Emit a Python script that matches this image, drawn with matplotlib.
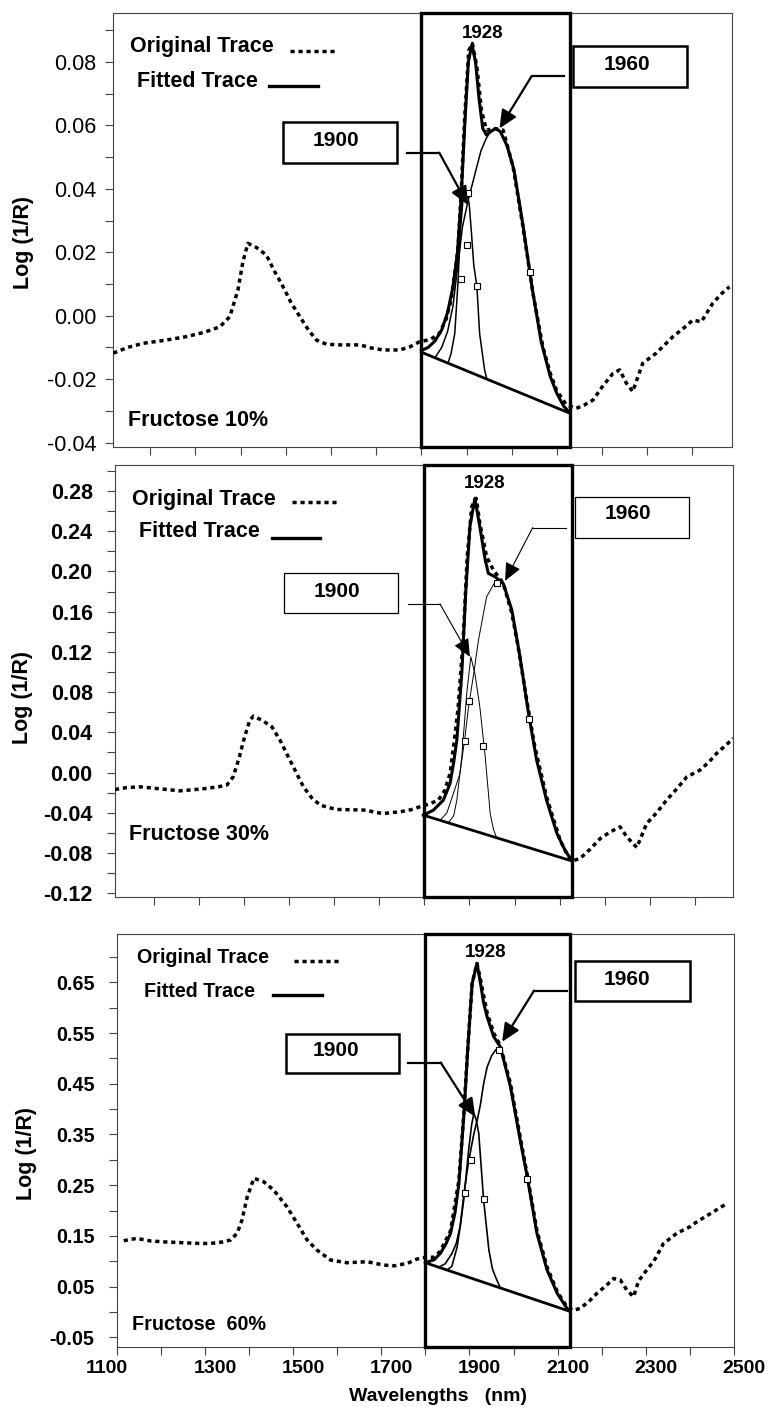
import matplotlib.pyplot as plt
from matplotlib.patches import Rectangle
from matplotlib.transforms import ScaledTranslation, blended_transform_factory

plt.rcParams['font.family'] = ['Liberation Sans', 'DejaVu Sans']
plt.rcParams['axes.unicode_minus'] = False

# ---- Fructose 10% ----
orig10_nm = [1118, 1150, 1184, 1230, 1280, 1320, 1354, 1376, 1394, 1405, 1416, 1435, 1457, 1475,
             1494, 1512, 1531, 1550, 1568, 1590, 1620, 1664, 1690, 1715, 1752, 1775, 1796, 1820,
             1840, 1855, 1866, 1881, 1888, 1896, 1905, 1913, 1923, 1933, 1944, 1962, 1981, 2003,
             2025, 2047, 2069, 2085, 2099, 2121, 2143, 2160, 2180, 2200, 2224, 2239, 2254, 2268,
             2290, 2320, 2357, 2380, 2401, 2420, 2445, 2465, 2482]
orig10_abs = [-0.0118, -0.0100, -0.0087, -0.0078, -0.0066, -0.0052, -0.0035, -0.0003, 0.0081,
              0.0170, 0.0228, 0.0215, 0.0191, 0.0140, 0.0091, 0.0040, -0.0003, -0.0045, -0.0077,
              -0.0090, -0.0092, -0.0092, -0.0102, -0.0108, -0.0108, -0.0098, -0.0082, -0.0075,
              -0.0056, -0.0010, 0.0051, 0.0207, 0.0385, 0.0627, 0.0837, 0.0858, 0.0784, 0.0648,
              0.0585, 0.0590, 0.0585, 0.0470, 0.0280, 0.0071, -0.0098, -0.0180, -0.0234, -0.0281,
              -0.0292, -0.0282, -0.0266, -0.0225, -0.0182, -0.0171, -0.0213, -0.0239, -0.0150,
              -0.0118, -0.0066, -0.0040, -0.0014, -0.0019, 0.0039, 0.0070, 0.0091]
fit10_nm = [1800, 1815, 1830, 1845, 1858, 1870, 1880, 1888, 1896, 1904, 1912, 1920, 1928, 1936,
            1944, 1955, 1965, 1975, 1990, 2005, 2025, 2045, 2065, 2085, 2100, 2115, 2128]
fit10_abs = [-0.0110, -0.0100, -0.0080, -0.0045, 0.0010, 0.0090, 0.0200, 0.0370, 0.0600, 0.0800,
             0.0855, 0.0800, 0.0680, 0.0590, 0.0570, 0.0582, 0.0590, 0.0580, 0.0535, 0.0460,
             0.0285, 0.0090, -0.0080, -0.0190, -0.0245, -0.0285, -0.0305]
base10_nm = [1800, 2128]
base10_abs = [-0.0115, -0.0307]
band1900_10_nm = [1859, 1866, 1874, 1881, 1886, 1892, 1901, 1906, 1911, 1916, 1923, 1929, 1940, 1945]
band1900_10_abs = [-0.0150, -0.0118, -0.0056, 0.0102, 0.0259, 0.0364, 0.0390, 0.0350, 0.0260,
                   0.0160, 0.0092, -0.0056, -0.0171, -0.0199]
band1960_10_nm = [1830, 1845, 1858, 1870, 1880, 1891, 1903, 1921, 1932, 1944, 1955, 1965, 1975,
                  1990, 2005, 2025, 2045, 2065, 2085, 2100, 2115, 2128]
band1960_10_abs = [-0.0133, -0.0100, -0.0050, 0.0030, 0.0150, 0.0280, 0.0360, 0.0460, 0.0520,
                   0.0560, 0.0585, 0.0590, 0.0580, 0.0535, 0.0460, 0.0285, 0.0090, -0.0080,
                   -0.0190, -0.0245, -0.0285, -0.0305]
sq10_nm = [1903, 1900, 1888, 1924, 2041]
sq10_abs = [0.0387, 0.0223, 0.0115, 0.0094, 0.0139]
tips10 = {'1900': (1903, 0.0349), '1960': (1973, 0.0590)}

# ---- Fructose 30% ----
orig30_nm = [1114, 1140, 1170, 1210, 1258, 1290, 1317, 1345, 1362, 1376, 1390, 1398, 1406, 1413,
             1421, 1440, 1462, 1480, 1502, 1517, 1532, 1550, 1569, 1590, 1606, 1640, 1672, 1690,
             1709, 1746, 1770, 1790, 1812, 1831, 1845, 1857, 1866, 1875, 1886, 1895, 1905, 1915,
             1923, 1938, 1953, 1975, 1994, 2008, 2027, 2045, 2071, 2101, 2115, 2127, 2145, 2168,
             2190, 2212, 2234, 2249, 2271, 2293, 2315, 2337, 2360, 2382, 2411, 2430, 2448, 2468, 2485]
orig30_abs = [-0.0168, -0.0150, -0.0142, -0.0160, -0.0182, -0.0170, -0.0158, -0.0140, -0.0125,
              -0.0043, 0.0156, 0.0300, 0.0422, 0.0520, 0.0561, 0.0520, 0.0455, 0.0322, 0.0123,
              -0.0010, -0.0142, -0.0250, -0.0324, -0.0350, -0.0367, -0.0370, -0.0374, -0.0395,
              -0.0407, -0.0390, -0.0370, -0.0341, -0.0310, -0.0275, -0.0180, -0.0009, 0.0300,
              0.0654, 0.1317, 0.2146, 0.2644, 0.2727, 0.2479, 0.2146, 0.2014, 0.1882, 0.1583,
              0.1251, 0.0720, 0.0256, -0.0242, -0.0673, -0.0800, -0.0879, -0.0855, -0.0760,
              -0.0656, -0.0590, -0.0540, -0.0640, -0.0745, -0.0507, -0.0400, -0.0275, -0.0160,
              -0.0043, 0.0024, 0.0100, 0.0190, 0.0270, 0.0340]
fit30_nm = [1798, 1820, 1842, 1857, 1865, 1872, 1883, 1892, 1901, 1912, 1923, 1935, 1942, 1957,
            1975, 1994, 2012, 2031, 2049, 2071, 2094, 2112, 2127]
fit30_abs = [-0.0424, -0.0374, -0.0275, -0.0109, 0.0100, 0.0322, 0.0986, 0.1815, 0.2445, 0.2727,
             0.2445, 0.2113, 0.1981, 0.1947, 0.1880, 0.1616, 0.1151, 0.0588, 0.0123, -0.0275,
             -0.0606, -0.0772, -0.0879]
base30_nm = [1798, 2127]
base30_abs = [-0.0424, -0.0879]
band1900_30_nm = [1853, 1865, 1872, 1883, 1894, 1903, 1912, 1923, 1935, 1946, 1953, 1960]
band1900_30_abs = [-0.0500, -0.0430, -0.0275, 0.0156, 0.0787, 0.1151, 0.0986, 0.0654, 0.0156,
                   -0.0407, -0.0560, -0.0648]
band1960_30_nm = [1835, 1850, 1865, 1879, 1890, 1898, 1910, 1920, 1938, 1957, 1968, 1975, 1994,
                  2012, 2031, 2049, 2071, 2094, 2112, 2127]
band1960_30_abs = [-0.0475, -0.0400, -0.0200, -0.0009, 0.0350, 0.0654, 0.1000, 0.1317, 0.1748,
                   0.1898, 0.1914, 0.1880, 0.1616, 0.1151, 0.0588, 0.0123, -0.0275, -0.0606,
                   -0.0772, -0.0879]
sq30_nm = [1960, 1900, 1890, 1929, 2031]
sq30_abs = [0.1882, 0.0710, 0.0312, 0.0263, 0.0528]
tips30 = {'1900': (1901, 0.1151), '1960': (1979, 0.1907)}

# ---- Fructose 60% ----
orig60_nm = [1116, 1130, 1146, 1176, 1210, 1252, 1290, 1312, 1340, 1358, 1373, 1384, 1396, 1411,
             1433, 1456, 1486, 1509, 1532, 1554, 1585, 1622, 1668, 1705, 1730, 1760, 1780, 1793,
             1820, 1834, 1857, 1876, 1887, 1896, 1906, 1917, 1925, 1940, 1955, 1970, 1993, 2015,
             2031, 2053, 2076, 2099, 2121, 2135, 2151, 2170, 2189, 2210, 2227, 2242, 2257, 2272,
             2283, 2295, 2318, 2340, 2370, 2400, 2416, 2454, 2484]
orig60_abs = [0.1403, 0.1430, 0.1450, 0.1400, 0.1380, 0.1364, 0.1350, 0.1350, 0.1380, 0.1418,
              0.1550, 0.1810, 0.2270, 0.2635, 0.2570, 0.2403, 0.2074, 0.1747, 0.1417, 0.1220,
              0.1023, 0.0970, 0.0990, 0.0924, 0.0910, 0.0960, 0.1040, 0.1070, 0.1080, 0.1200,
              0.1600, 0.2600, 0.3900, 0.5200, 0.6480, 0.6875, 0.6550, 0.5900, 0.5500, 0.5250,
              0.4500, 0.3450, 0.2700, 0.1600, 0.0880, 0.0400, 0.0100, 0.0030, 0.0070, 0.0200,
              0.0366, 0.0520, 0.0660, 0.0630, 0.0430, 0.0300, 0.0600, 0.0750, 0.1000, 0.1350,
              0.1550, 0.1680, 0.1780, 0.1980, 0.2140]
fit60_nm = [1800, 1820, 1834, 1847, 1857, 1867, 1876, 1887, 1896, 1906, 1917, 1925, 1932, 1940,
            1955, 1970, 1993, 2015, 2031, 2053, 2076, 2099, 2121, 2128]
fit60_abs = [0.0970, 0.1030, 0.1155, 0.1350, 0.1550, 0.1950, 0.2535, 0.3850, 0.5165, 0.6480,
             0.6875, 0.6480, 0.6100, 0.5820, 0.5427, 0.5230, 0.4440, 0.3390, 0.2665, 0.1550,
             0.0826, 0.0366, 0.0070, 0.0010]
base60_nm = [1800, 2128]
base60_abs = [0.0970, 0.0010]
band1900_60_nm = [1849, 1860, 1872, 1880, 1887, 1898, 1905, 1910, 1915, 1921, 1932, 1944, 1952,
                  1959, 1970]
band1900_60_abs = [0.0827, 0.0900, 0.1280, 0.1750, 0.2210, 0.3190, 0.3700, 0.3916, 0.3800,
                   0.3520, 0.2210, 0.1220, 0.0850, 0.0690, 0.0472]
band1960_60_nm = [1830, 1845, 1860, 1870, 1879, 1887, 1895, 1903, 1910, 1918, 1925, 1932, 1940,
                  1950, 1959, 1970, 1993, 2015, 2031, 2053, 2076, 2099, 2121, 2128]
band1960_60_abs = [0.0882, 0.0950, 0.1150, 0.1350, 0.1700, 0.2300, 0.2800, 0.3200, 0.3520,
                   0.3800, 0.4100, 0.4500, 0.4830, 0.5050, 0.5165, 0.5230, 0.4440, 0.3390,
                   0.2665, 0.1550, 0.0826, 0.0366, 0.0070, 0.0010]
sq60_nm = [1966, 1904, 1889, 1934, 2031]
sq60_abs = [0.5165, 0.2995, 0.2340, 0.2220, 0.2630]
tips60 = {'1900': (1913, 0.385), '1960': (1974, 0.5328)}

window_nm = (1800, 2128)
panel_names = ['Fructose 10%', 'Fructose 30%', 'Fructose  60%']
yticks10 = [-0.04, -0.02, 0.00, 0.02, 0.04, 0.06, 0.08]
yticks30 = [-0.12, -0.08, -0.04, 0.00, 0.04, 0.08, 0.12, 0.16, 0.20, 0.24, 0.28]
yticks60 = [-0.05, 0.05, 0.15, 0.25, 0.35, 0.45, 0.55, 0.65]
xticks_major = [1100, 1300, 1500, 1700, 1900, 2100, 2300, 2500]

panels = [
    dict(orig=(orig10_nm, orig10_abs), fit=(fit10_nm, fit10_abs), base=(base10_nm, base10_abs),
         b1=(band1900_10_nm, band1900_10_abs), b2=(band1960_10_nm, band1960_10_abs),
         sq=(sq10_nm, sq10_abs), tips=tips10, name=panel_names[0], yticks=yticks10, yminor=0.01,
         pos=[0.1475, 0.6825, 0.8052, 0.3080], xlim=(1118, 2487), ylim=(-0.0413, 0.0953),
         orig_txt=(0.027, 0.923), dot=(0.2857, 0.3612, 0.9137), fit_txt=(0.0378, 0.8438),
         sol=(0.2519, 0.331, 0.8322), name_xy=(0.0238, 0.0616), pk=(0.5975, 0.9538),
         box60=(0.7439, 0.8293, 0.1843, 0.0959), t60=(0.8302, 0.8823), c60=(0.7288, 0.6766, 0.8554),
         box00=(0.2739, 0.6553, 0.1854, 0.0946), t00=(0.3601, 0.7077), c00=(0.4744, 0.5272, 0.6784),
         ylab=(-0.1455, 0.471), fs=15.5, tickw='normal', thin=1.1, boxlw=1.8, connlw=1.6),
    dict(orig=(orig30_nm, orig30_abs), fit=(fit30_nm, fit30_abs), base=(base30_nm, base30_abs),
         b1=(band1900_30_nm, band1900_30_abs), b2=(band1960_30_nm, band1960_30_abs),
         sq=(sq30_nm, sq30_abs), tips=tips30, name=panel_names[1], yticks=yticks30, yminor=0.02,
         pos=[0.1497, 0.3623, 0.8051, 0.3073], xlim=(1114, 2485), ylim=(-0.124, 0.306),
         orig_txt=(0.028, 0.9207), dot=(0.2868, 0.3602, 0.9151), fit_txt=(0.0388, 0.8457),
         sol=(0.2534, 0.3316, 0.8318), name_xy=(0.0231, 0.1441), pk=(0.5979, 0.9577),
         box60=(0.744, 0.8304, 0.1848, 0.0949), t60=(0.8302, 0.8866), c60=(0.7289, 0.6756, 0.855),
         box00=(0.2738, 0.657, 0.1844, 0.0939), t00=(0.3595, 0.7069), c00=(0.4734, 0.5256, 0.6785),
         ylab=(-0.1488, 0.4617), fs=15.5, tickw='bold', thin=0.7, boxlw=0.9, connlw=0.8),
    dict(orig=(orig60_nm, orig60_abs), fit=(fit60_nm, fit60_abs), base=(base60_nm, base60_abs),
         b1=(band1900_60_nm, band1900_60_abs), b2=(band1960_60_nm, band1960_60_abs),
         sq=(sq60_nm, sq60_abs), tips=tips60, name=panel_names[2], yticks=yticks60, yminor=0.05,
         pos=[0.1520, 0.0429, 0.8038, 0.2931], xlim=(1100, 2500), ylim=(-0.0685, 0.745),
         orig_txt=(0.0324, 0.9442), dot=(0.2877, 0.3617, 0.9353), fit_txt=(0.0447, 0.8608),
         sol=(0.2537, 0.3331, 0.8528), name_xy=(0.0243, 0.0543), pk=(0.5979, 0.9563),
         box60=(0.7424, 0.8383, 0.1863, 0.097), t60=(0.8262, 0.8892), c60=(0.729, 0.676, 0.8632),
         box00=(0.2738, 0.6644, 0.1835, 0.0938), t00=(0.3553, 0.717), c00=(0.4724, 0.5249, 0.6887),
         ylab=(-0.1458, 0.469), fs=14.2, tickw='bold', thin=1.2, boxlw=1.8, connlw=1.6),
]

# square dots with visible gaps, like the scanned trace
DOTS = (0, (1.2, 1.1))

fig = plt.figure(figsize=(7.68, 14.07), dpi=100)

for i, p in enumerate(panels):
    ax = fig.add_axes(p['pos'])
    ax.set_xlim(*p['xlim'])
    ax.set_ylim(*p['ylim'])

    # spectra
    ax.plot(*p['orig'], color='k', lw=2.5, linestyle=DOTS, dash_capstyle='butt', zorder=3)
    ax.plot(*p['b1'], color='k', lw=p['thin'], zorder=4)
    ax.plot(*p['b2'], color='k', lw=p['thin'], zorder=4)
    ax.plot(*p['base'], color='k', lw=2.0, zorder=4)
    ax.plot(*p['fit'], color='k', lw=2.2, zorder=5)
    ax.plot(*p['sq'], linestyle='none', marker='s', ms=5, mfc='white', mec='k', mew=0.8, zorder=6)

    # fitting window
    ax.axvspan(*window_nm, fill=False, edgecolor='k', lw=2.4, clip_on=False, zorder=7)

    # legend-like labels
    fs = p['fs']
    ax.text(*p['orig_txt'], 'Original Trace', transform=ax.transAxes, ha='left', va='center',
            fontsize=fs, fontweight='bold')
    x0, x1, yy = p['dot']
    ax.plot([x0, x1], [yy, yy], transform=ax.transAxes, color='k', lw=2.5, linestyle=DOTS,
            dash_capstyle='butt')
    ax.text(*p['fit_txt'], 'Fitted Trace', transform=ax.transAxes, ha='left', va='center',
            fontsize=fs, fontweight='bold')
    x0, x1, yy = p['sol']
    ax.plot([x0, x1], [yy, yy], transform=ax.transAxes, color='k', lw=2.4)
    ax.text(*p['name_xy'], p['name'], transform=ax.transAxes, ha='left', va='center',
            fontsize=fs, fontweight='bold')
    ax.text(*p['pk'], '1928', transform=ax.transAxes, ha='center', va='center',
            fontsize=13.5, fontweight='bold')

    # band call-outs
    for key, box, txt, conn in (('1960', p['box60'], p['t60'], p['c60']),
                                ('1900', p['box00'], p['t00'], p['c00'])):
        ax.add_patch(Rectangle(box[:2], box[2], box[3], transform=ax.transAxes, facecolor='white',
                               edgecolor='k', lw=p['boxlw'], zorder=8))
        ax.text(*txt, key, transform=ax.transAxes, ha='center', va='center', fontsize=15,
                fontweight='bold', zorder=9)
        ax.plot([conn[0], conn[1]], [conn[2], conn[2]], transform=ax.transAxes, color='k',
                lw=p['connlw'], zorder=8)
        ax.annotate('', xy=p['tips'][key], xycoords='data', xytext=(conn[1], conn[2]),
                    textcoords='axes fraction',
                    arrowprops=dict(arrowstyle='-|>,head_length=1.1,head_width=0.5', color='k',
                                    lw=p['connlw'], shrinkA=0, shrinkB=0), zorder=8)

    # axes styling
    for s in ax.spines.values():
        s.set_linewidth(0.8)
        s.set_color('#444444')
    ax.set_yticks(p['yticks'])
    ax.yaxis.set_minor_locator(plt.MultipleLocator(p['yminor']))
    ax.set_yticklabels(['%.2f' % v for v in p['yticks']], fontsize=fs, fontweight=p['tickw'])
    ax.tick_params(axis='y', which='both', direction='out', length=6, width=0.8,
                   color='#444444', pad=6 if i == 0 else 10)
    ax.tick_params(axis='x', which='both', direction='out', length=5.5, width=0.8,
                   color='#444444', pad=5)
    ax.set_ylabel('Log (1/R)', fontsize=15.5, fontweight='bold')
    ax.yaxis.set_label_coords(*p['ylab'])
    ax.yaxis.label.set_va('center')

    if i < 2:
        ax.xaxis.set_major_locator(plt.MultipleLocator(100))
        ax.set_xticklabels([])
    else:
        ax.set_xticks(xticks_major)
        ax.xaxis.set_minor_locator(plt.MultipleLocator(100))
        ax.set_xticklabels([])
        # wavelength labels sit a little right of their ticks; the first one is pulled inward
        trans = blended_transform_factory(ax.transData, ax.transAxes)
        for k, v in enumerate(xticks_major):
            dx = -0.1 if k == 0 else 0.1
            ax.text(v, 0, str(v), ha='center', va='center', fontsize=14, fontweight='bold',
                    transform=trans + ScaledTranslation(dx, -0.215, fig.dpi_scale_trans),
                    clip_on=False)
        ax.set_xlabel('Wavelengths   (nm)', fontsize=14, fontweight='bold')
        ax.xaxis.set_label_coords(0.5205, -0.121)
        ax.xaxis.label.set_va('center')

fig.savefig('out.png', dpi=100)
